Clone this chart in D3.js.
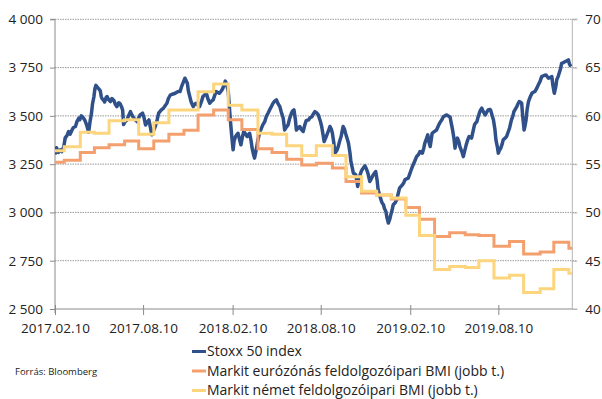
<!DOCTYPE html>
<html>
<head>
<meta charset="utf-8">
<script src="https://cdn.jsdelivr.net/npm/d3@7/dist/d3.min.js"></script>
<style>
  html, body { margin: 0; padding: 0; background: #fff; }
  svg text { font-family: "Open Sans", "DejaVu Sans", sans-serif; fill: #222; }
</style>
</head>
<body>
<svg id="chart" width="602" height="399"></svg>
<script>
// Euro Stoxx 50: calendar days after 2017-02-10 and index level
const stoxxDay = [0,3,7,11,14,18,21,25,28,31,35,38,42,45,49,51,54,58,61,64,66,69,72,75,77,80,82,84,87,90,93,95,97,100,102,105,107,110,114,117,121,124,127,131,134,137,139,141,144,148,151,155,158,162,165,169,172,175,180,183,186,189,193,196,199,202,206,210,213,218,223,227,230,233,237,241,247,253,257,260,263,267,269,272,274,277,280,284,287,290,294,297,301,304,308,311,314,318,321,325,328,331,335,338,342,345,348,350,353,356,358,360,363,366,368,371,373,376,379,382,385,388,392,395,398,400,403,405,408,410,414,417,421,424,427,431,434,438,441,445,448,451,455,458,462,465,469,472,475,479,482,486,488,491,494,496,499,503,506,510,513,516,521,524,528,531,534,538,541,545,548,551,553,557,560,563,565,568,570,573,575,579,582,585,588,590,592,595,597,600,603,606,608,611,613,615,618,620,622,624,627,629,631,634,637,640,643,645,647,651,654,657,659,662,664,667,670,672,675,677,680,682,685,688,690,693,695,699,702,705,708,711,714,717,719,723,726,729,732,734,736,740,743,747,750,753,755,758,760,763,766,768,771,773,775,780,784,788,791,795,798,801,805,808,812,814,817,820,822,824,827,830,832,836,839,842,845,848,851,854,856,859,862,864,867,869,872,874,877,880,884,887,890,893,895,898,901,904,906,909,911,913,916,919,921,925,928,931,934,936,938,941,943,946,949,951,954,957,959,961,964,966,968,970,973,976,980,983,986,990,993,997,1000,1004,1009,1011,1014,1017,1021,1023,1026,1029,1031,1034,1036,1039,1041,1045,1048,1052,1055,1057,1060];
const stoxxValue = [3300,3335,3310,3324,3315,3340,3386,3400,3419,3405,3427,3440,3445,3470,3488,3480,3500,3490,3479,3460,3445,3415,3470,3514,3560,3600,3640,3658,3648,3640,3630,3600,3588,3580,3572,3595,3600,3585,3574,3590,3580,3560,3548,3568,3562,3545,3530,3455,3470,3479,3500,3522,3505,3488,3480,3470,3490,3505,3514,3490,3453,3465,3479,3440,3402,3420,3445,3480,3514,3530,3540,3555,3565,3590,3608,3612,3617,3626,3626,3651,3670,3695,3685,3669,3630,3600,3570,3548,3560,3565,3555,3548,3575,3600,3610,3617,3590,3565,3575,3583,3605,3626,3620,3617,3630,3643,3665,3680,3660,3626,3560,3488,3400,3324,3370,3393,3400,3410,3380,3350,3390,3419,3405,3393,3405,3410,3370,3333,3300,3281,3330,3376,3419,3435,3453,3470,3496,3515,3531,3550,3565,3575,3583,3565,3548,3520,3488,3427,3440,3453,3485,3514,3525,3531,3480,3427,3435,3445,3430,3419,3450,3475,3479,3490,3496,3510,3522,3515,3505,3475,3445,3400,3367,3390,3410,3430,3445,3430,3410,3360,3307,3320,3341,3370,3393,3420,3445,3430,3410,3385,3359,3310,3264,3230,3204,3200,3195,3165,3134,3165,3195,3210,3221,3232,3241,3225,3204,3180,3160,3180,3195,3205,3212,3165,3117,3090,3065,3050,3040,3020,3005,2975,2945,2965,2988,3015,3040,3050,3065,3095,3126,3135,3143,3155,3169,3175,3178,3200,3221,3235,3247,3270,3289,3300,3315,3312,3307,3335,3359,3380,3402,3370,3341,3375,3410,3420,3427,3450,3465,3480,3495,3500,3505,3500,3493,3465,3427,3380,3333,3360,3385,3365,3341,3315,3289,3320,3350,3375,3393,3390,3385,3420,3453,3462,3470,3490,3514,3528,3540,3522,3505,3518,3531,3533,3531,3505,3479,3430,3376,3340,3307,3320,3333,3355,3376,3385,3393,3415,3436,3458,3479,3500,3522,3535,3548,3560,3574,3570,3565,3500,3427,3450,3479,3530,3574,3595,3617,3622,3626,3643,3660,3680,3703,3708,3712,3705,3695,3698,3703,3660,3617,3650,3686,3705,3721,3745,3772,3776,3781,3785,3790,3770,3755];

// Manufacturing PMI, each month's reading shown from its release date
const pmiRelease = ["2017-02-01","2017-03-01","2017-04-03","2017-05-02","2017-06-01","2017-07-03","2017-08-01","2017-09-01","2017-10-02","2017-11-02","2017-12-01",
  "2018-01-02","2018-02-01","2018-03-01","2018-04-03","2018-05-02","2018-06-01","2018-07-02","2018-08-01","2018-09-03","2018-10-01","2018-11-02","2018-12-03",
  "2019-01-02","2019-02-01","2019-03-01","2019-04-01","2019-05-02","2019-06-03","2019-07-01","2019-08-01","2019-09-02","2019-10-01","2019-11-04","2019-12-02",
  "2020-01-02"];
const pmiEurozone = [55.2,55.4,56.2,56.7,57.0,57.4,56.6,57.4,58.1,58.5,60.1,60.6,
  59.6,58.6,56.6,56.2,55.5,54.9,55.1,54.6,53.2,52.0,51.8,51.4,
  50.5,49.3,47.5,47.9,47.7,47.6,46.5,47.0,45.7,45.9,46.9,46.3];
const pmiGermany = [56.4,56.8,58.3,58.2,59.5,59.6,58.1,59.3,60.6,60.6,62.5,63.3,
  61.1,60.6,58.2,58.1,56.9,55.9,56.9,55.9,53.7,52.2,51.8,51.5,
  49.7,47.6,44.1,44.4,44.3,45.0,43.2,43.5,41.7,42.1,44.1,43.7];

const leftTicks = [2500, 2750, 3000, 3250, 3500, 3750, 4000];
const rightTicks = [40, 45, 50, 55, 60, 65, 70];
const xTickDates = ["2017-02-10","2017-08-10","2018-02-10","2018-08-10","2019-02-10","2019-08-10"];

const seriesNames = ["Stoxx 50 index",
  "Markit eurózónás feldolgozóipari BMI (jobb t.)",
  "Markit német feldolgozóipari BMI (jobb t.)"];
const seriesColors = ["#2f5089", "#f4a06e", "#fcd57c"];
const sourceText = "Forrás: Bloomberg";

const parse = d3.utcParse("%Y-%m-%d");
const fmt = d3.utcFormat("%Y.%m.%d");
const startDate = parse("2017-02-10");
const endDate = parse("2020-01-09");

const plot = { left: 55, right: 572.3, top: 19.3, bottom: 309 };
const axisFont = 13.5;

const svg = d3.select("#chart");

const x = d3.scaleUtc().domain([startDate, endDate]).range([plot.left, plot.right]);
const yL = d3.scaleLinear().domain([2500, 4000]).range([plot.bottom, plot.top]);
const yR = d3.scaleLinear().domain([40, 70]).range([plot.bottom, plot.top]);

// clip for the series
svg.append("defs").append("clipPath").attr("id", "plotClip")
  .append("rect")
  .attr("x", plot.left).attr("y", plot.top - 6)
  .attr("width", plot.right - plot.left).attr("height", plot.bottom - plot.top + 12);

// dotted gridlines
svg.append("g").selectAll("line")
  .data(leftTicks.filter(v => v !== 2500))
  .join("line")
  .attr("x1", plot.left).attr("x2", plot.right + 4)
  .attr("y1", d => yL(d)).attr("y2", d => yL(d))
  .attr("stroke", "#9a9a9a").attr("stroke-width", 1)
  .attr("stroke-dasharray", "1.5,1");

// left axis
const gL = svg.append("g").attr("transform", `translate(${plot.left},0)`)
  .call(d3.axisLeft(yL).tickValues(leftTicks).tickSize(5).tickPadding(7)
    .tickFormat(d => d3.format(",")(d).replace(",", " ")));
gL.select(".domain").attr("stroke", "#8a8a8a").attr("d", `M-5,${plot.top}H0V${plot.bottom + 4}`);
gL.selectAll(".tick line").attr("stroke", "#8a8a8a");
gL.selectAll("text").attr("font-size", axisFont).attr("fill", "#222")
  .style("font-family", '"Open Sans", sans-serif');

// right axis
const gR = svg.append("g").attr("transform", `translate(${plot.right},0)`)
  .call(d3.axisRight(yR).tickValues(rightTicks).tickSize(5).tickPadding(8));
gR.select(".domain").attr("stroke", "#b5b5b5").attr("d", `M5,${plot.top}H0V${plot.bottom}H5`);
gR.selectAll(".tick line").attr("stroke", "#b5b5b5");
gR.selectAll("text").attr("font-size", axisFont).attr("fill", "#222")
  .style("font-family", '"Open Sans", sans-serif');

// bottom axis
const gB = svg.append("g").attr("transform", `translate(0,${plot.bottom})`)
  .call(d3.axisBottom(x).tickValues(xTickDates.map(parse)).tickSize(6).tickPadding(8)
    .tickFormat(fmt));
gB.select(".domain").attr("stroke", "#8a8a8a").attr("d", `M${plot.left},0H${plot.right}`);
gB.selectAll(".tick line").attr("stroke", "#8a8a8a").attr("y1", -4);
gB.selectAll("text").attr("font-size", axisFont).attr("fill", "#222")
  .style("font-family", '"Open Sans", sans-serif');

const series = svg.append("g").attr("clip-path", "url(#plotClip)");

// Stoxx 50 (left axis)
const stoxx = stoxxDay.map((d, i) => ({ date: d3.utcDay.offset(startDate, d), value: stoxxValue[i] }));
series.append("path")
  .datum(stoxx)
  .attr("fill", "none")
  .attr("stroke", seriesColors[0])
  .attr("stroke-width", 3.5)
  .attr("stroke-linejoin", "round")
  .attr("d", d3.line().x(d => x(d.date)).y(d => yL(d.value)));

// PMI step lines (right axis), last reading held to the end of the range
function pmiSeries(values) {
  const pts = pmiRelease.map((s, i) => ({ date: parse(s), value: values[i] }));
  pts.push({ date: endDate, value: values[values.length - 1] });
  return pts;
}
const stepLine = d3.line().curve(d3.curveStepAfter).x(d => x(d.date)).y(d => yR(d.value));
[pmiEurozone, pmiGermany].forEach((vals, i) => {
  series.append("path")
    .datum(pmiSeries(vals))
    .attr("fill", "none")
    .attr("stroke", seriesColors[i + 1])
    .attr("stroke-width", 3)
    .attr("d", stepLine);
});

// legend
const legend = svg.append("g").attr("transform", "translate(192,351.5)");
seriesNames.forEach((name, i) => {
  const g = legend.append("g").attr("transform", `translate(0,${i * 19.5})`);
  g.append("line").attr("x1", 0).attr("x2", 14).attr("y1", 0).attr("y2", 0)
    .attr("stroke", seriesColors[i]).attr("stroke-width", 3);
  g.append("text").attr("x", 15).attr("y", 0).attr("dy", "0.35em")
    .attr("font-size", 14).text(name);
});

// source note
svg.append("text").attr("x", 15).attr("y", 372).attr("dy", "0.35em")
  .attr("font-size", 9.5).text(sourceText);
</script>
</body>
</html>
